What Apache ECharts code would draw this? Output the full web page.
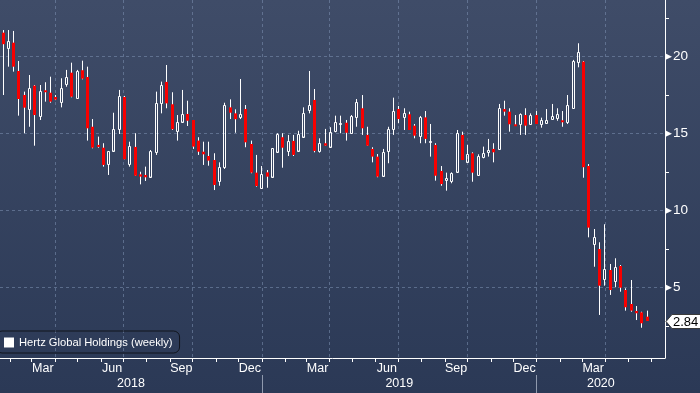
<!DOCTYPE html>
<html>
<head>
<meta charset="utf-8">
<script src="https://cdn.jsdelivr.net/npm/echarts@6/dist/echarts.min.js"></script>
<style>
html,body{margin:0;padding:0;background:#34425e;}
#c{width:700px;height:393px;}
</style>
</head>
<body>
<div id="c"></div>
<script>
// ---- data (weekly candles, Hertz Global Holdings) ----
const seriesName = 'Hertz Global Holdings (weekly)';
const firstWeek = '2018-01-19';   // first weekly bar (Friday)
const open = [21.56,20.58,20.91,19.07,17.51,16.58,18.12,16.17,17.82,17.66,17.38,17.08,18.21,18.96,17.34,19.12,18.68,15.45,14.27,14.09,
  13.03,13.90,15.29,17.38,13.03,14.14,12.36,12.32,12.21,13.83,16.97,18.36,16.91,15.18,15.78,16.28,15.89,14.55,13.83,13.55,
  13.29,11.95,12.82,16.71,16.32,16.10,16.60,14.33,12.47,11.49,12.49,12.21,13.83,14.77,13.90,14.53,13.90,14.81,16.54,17.19,
  13.90,14.38,14.16,15.19,15.63,15.71,15.03,16.06,16.65,14.92,14.01,13.51,12.27,13.90,15.29,16.60,16.06,16.26,15.52,14.87,
  16.06,14.44,14.27,12.58,11.99,11.95,12.53,14.92,13.18,13.73,12.32,13.51,13.83,14.01,13.99,16.60,16.43,15.61,15.63,16.21,
  15.63,16.21,15.63,15.71,15.94,16.04,15.87,15.78,16.65,19.68,19.68,12.90,7.84,7.51,5.55,6.15,5.44,6.41,4.85,3.94,
  3.49,3.40,3.12];
const high = [21.73,21.73,21.67,19.72,17.73,18.81,18.16,18.16,18.34,18.70,17.51,18.60,19.14,19.61,19.14,19.74,19.35,15.95,14.81,14.38,
  13.88,16.36,17.84,17.45,14.48,15.03,12.53,12.86,13.94,17.73,18.38,19.46,17.69,16.21,17.84,17.14,15.89,14.77,14.48,14.48,
  13.73,13.14,17.01,17.23,16.58,18.55,16.86,14.55,13.62,12.90,12.64,14.05,15.03,15.03,14.92,14.92,15.19,16.71,19.07,17.90,
  14.70,15.31,15.42,16.17,16.17,15.89,16.21,17.25,17.51,15.45,14.12,13.68,14.01,15.45,17.34,16.80,16.65,16.43,15.63,16.15,
  16.47,15.63,14.38,12.90,12.47,12.49,15.24,15.13,14.27,13.79,13.66,14.16,14.66,14.38,16.93,17.14,16.65,16.21,16.32,16.65,
  16.32,16.47,16.04,16.60,16.93,16.65,16.47,17.51,19.79,20.87,19.72,13.03,8.81,7.95,9.12,6.54,6.91,6.47,4.96,5.50,
  3.81,3.44,3.51];
const low = [17.51,19.35,19.03,16.17,15.03,15.45,14.22,15.89,17.08,17.01,17.18,16.71,18.05,17.36,17.30,18.53,14.55,14.05,14.09,12.86,
  12.32,13.90,14.98,13.34,12.86,12.27,11.71,11.93,12.21,13.62,16.32,16.65,15.24,14.55,15.78,15.50,14.01,13.62,12.97,12.92,
  11.34,11.62,12.71,15.95,15.06,15.95,14.12,12.43,11.56,11.45,11.49,12.21,13.83,12.79,13.55,13.55,13.90,14.81,16.32,13.79,
  13.77,14.22,14.16,15.09,15.03,14.55,14.98,15.45,14.92,14.22,13.14,12.17,12.27,13.08,14.92,15.68,15.24,15.24,14.70,14.38,
  14.38,13.51,11.95,11.62,11.30,11.78,12.53,13.29,13.18,11.88,12.32,13.40,13.51,13.14,13.94,16.17,15.13,15.52,14.92,14.92,
  15.63,15.63,15.39,15.63,15.89,15.84,15.45,15.63,16.65,19.31,12.14,8.27,6.36,3.23,5.13,4.53,5.03,4.74,3.51,3.44,
  2.90,2.40,2.84];
const close = [20.81,21.02,19.35,17.25,16.69,17.95,16.21,17.77,17.73,17.08,17.21,17.95,18.68,17.40,19.07,18.57,15.35,14.09,14.14,12.97,
  13.88,15.31,17.45,13.34,14.20,12.27,12.21,12.17,13.88,16.99,18.14,16.97,15.29,15.78,16.28,15.84,14.16,13.83,13.66,13.25,
  11.67,12.82,16.86,16.36,15.94,16.28,14.44,12.47,11.60,12.36,12.21,14.05,14.98,14.09,14.53,13.62,14.96,16.32,16.86,13.88,
  14.38,14.22,15.09,15.78,15.71,15.06,16.15,17.04,15.35,14.22,13.51,12.21,13.79,15.31,16.47,15.95,16.32,15.24,14.87,16.06,
  14.66,14.55,12.27,11.73,12.14,12.43,15.06,13.29,13.68,12.47,13.55,13.77,13.94,13.79,16.65,16.43,15.61,15.52,16.26,15.52,
  16.21,15.63,15.89,15.89,16.15,16.28,15.78,16.86,19.72,20.29,12.82,8.90,8.27,5.13,6.19,4.85,6.32,5.00,3.73,3.51,
  3.34,2.69,2.84];
const yTickLabels = [5, 10, 15, 20];
const yMinorTicks = [2.5, 7.5, 12.5, 17.5, 22.5];
const monthNames = ['Jan','Feb','Mar','Apr','May','Jun','Jul','Aug','Sep','Oct','Nov','Dec'];
const labelMonths = [2, 5, 8, 11];   // Mar, Jun, Sep, Dec
const gridMonths = [0, 3, 6, 9];     // quarter starts
const years = [2018, 2019, 2020];

// ---- derived ----
const DAY = 864e5;
const N = close.length;
const weeks = [];
const w0 = Date.parse(firstWeek + 'T00:00:00Z');
for (let k = 0; k < N; k++) weeks.push(new Date(w0 + k * 7 * DAY).toISOString().slice(0, 10));
const cats = weeks.concat(['pad1', 'pad2', 'pad3']);
const candles = close.map((c, i) => [i, open[i], c, low[i], high[i]]);

const T0 = Date.UTC(2018, 0, 18, 2, 24);
const T1 = T0 + 883.3 * DAY;
const monthTicks = [], monthLabels = [], quarterLines = [], yearTicks = [], yearLabels = [];
years.forEach(y => {
  for (let m = 0; m < 12; m++) {
    const t = Date.UTC(y, m, 1);
    if (t > T0 && t < T1) {
      monthTicks.push(t);
      if (gridMonths.includes(m)) quarterLines.push(t);
      if (m === 0) yearTicks.push(t);
    }
    const lt = Date.UTC(y, m, 16);
    if (labelMonths.includes(m) && t > T0 && Date.UTC(y, m + 1, 1) <= T1) monthLabels.push(lt);
  }
  const a = Math.max(T0, Date.UTC(y, 0, 1)), b = Math.min(T1, Date.UTC(y + 1, 0, 1));
  yearLabels.push((a + b) / 2);
});

const FONT = 'Liberation Sans, Arial, sans-serif';
const GRIDC = 'rgba(125,145,178,0.55)';

function renderCandle(params, api) {
  const i = api.value(0);
  const o = api.value(1), c = api.value(2), lo = api.value(3), hi = api.value(4);
  const pO = api.coord([i, o]), pC = api.coord([i, c]);
  const yL = api.coord([i, lo])[1], yH = api.coord([i, hi])[1];
  const xc = Math.round(pO[0]);
  const wx = xc + 0.5;
  const top = Math.min(pO[1], pC[1]), bot = Math.max(pO[1], pC[1]);
  const ch = [];
  if (c < o) {
    ch.push({type: 'line', shape: {x1: wx, y1: yH, x2: wx, y2: yL}, style: {stroke: '#ffffff', lineWidth: 1}});
    ch.push({type: 'rect', shape: {x: xc - 1, y: top, width: 3, height: Math.max(bot - top, 2)}, style: {fill: '#f80000'}});
  } else {
    const t = Math.round(top), b = Math.max(Math.round(bot), t + 1);
    ch.push({type: 'line', shape: {x1: wx, y1: yH, x2: wx, y2: t}, style: {stroke: '#ffffff', lineWidth: 1}});
    ch.push({type: 'line', shape: {x1: wx, y1: b, x2: wx, y2: yL}, style: {stroke: '#ffffff', lineWidth: 1}});
    ch.push({type: 'rect', shape: {x: xc - 0.5, y: t + 0.5, width: 2, height: b - t}, style: {fill: null, stroke: '#ffffff', lineWidth: 1}});
  }
  return {type: 'group', children: ch};
}

function renderTag(params, api) {
  const p = api.coord([api.value(0), api.value(1)]);
  const gx = params.coordSys.x + params.coordSys.width;
  const y = Math.round(p[1]) + 0.5;
  return {type: 'group', children: [
    {type: 'polygon', shape: {points: [[gx + 1, y], [gx + 7, y - 7], [gx + 40, y - 7], [gx + 40, y + 7], [gx + 7, y + 7]]},
     style: {fill: '#ffffff', stroke: '#3a3a3a', lineWidth: 1}},
    {type: 'text', style: {text: api.value(1).toFixed(2), x: gx + 8, y: y + 0.5, fill: '#000000', font: '13px ' + FONT,
      textVerticalAlign: 'middle', verticalAlign: 'middle', textAlign: 'left'}}
  ]};
}

const chart = echarts.init(document.getElementById('c'), null, {renderer: 'canvas'});
chart.setOption({
  animation: false,
  backgroundColor: new echarts.graphic.LinearGradient(0, 0, 0, 1, [
    {offset: 0, color: '#3f4c68'}, {offset: 1, color: '#2b3956'}]),
  textStyle: {fontFamily: FONT},
  grid: {left: -2, right: 35, top: 0, bottom: 35, containLabel: false},
  legend: {
    data: [{name: seriesName, icon: 'rect'}], left: -4, top: 331, itemWidth: 10, itemHeight: 10,
    padding: [6, 7, 5, 8], borderColor: '#10141c', borderWidth: 1, borderRadius: 6, selectedMode: false,
    textStyle: {color: '#ffffff', fontSize: 11.2, fontFamily: FONT}
  },
  xAxis: [
    {type: 'category', data: cats, boundaryGap: true, show: false},
    {type: 'value', min: T0, max: T1, position: 'bottom',
     axisLine: {show: true, lineStyle: {color: '#ffffff', width: 1}},
     axisTick: {show: true, length: 4, customValues: monthTicks, lineStyle: {color: '#ffffff'}},
     axisLabel: {show: true, customValues: monthLabels, margin: 4, color: '#ffffff', fontSize: 12.5,
       formatter: v => monthNames[new Date(v).getUTCMonth()]},
     splitLine: {show: false}},
    {type: 'value', min: T0, max: T1, position: 'bottom', offset: 17,
     axisLine: {show: false},
     axisTick: {show: true, length: 18, customValues: yearTicks, lineStyle: {color: '#8f99ad'}},
     axisLabel: {show: true, customValues: yearLabels, margin: 2, color: '#ffffff', fontSize: 12.5,
       formatter: v => String(new Date(v).getUTCFullYear())},
     splitLine: {show: false}},
    {type: 'value', min: T0, max: T1, position: 'bottom',
     axisLine: {show: false},
     axisTick: {show: false, customValues: quarterLines},
     axisLabel: {show: false},
     splitLine: {show: true, lineStyle: {color: GRIDC, type: [3, 3], width: 1}}}
  ],
  yAxis: [
    {type: 'value', position: 'right', min: 0.435, max: 23.68,
     axisLine: {show: true, lineStyle: {color: '#ffffff', width: 1}},
     axisTick: {show: false, customValues: yTickLabels},
     axisLabel: {show: true, customValues: yTickLabels, margin: 0, color: '#ffffff',
       formatter: v => '{t|▶}{v|' + v + '}',
       rich: {t: {fontSize: 9, color: '#ffffff', padding: [0, 1, 0, 0]}, v: {fontSize: 13.5, color: '#ffffff', fontFamily: FONT}}},
     splitLine: {show: true, lineStyle: {color: GRIDC, type: [3, 3], width: 1}}},
    {type: 'value', position: 'right', min: 0.435, max: 23.68,
     axisLine: {show: false},
     axisTick: {show: true, length: 4, customValues: yMinorTicks, lineStyle: {color: '#ffffff'}},
     axisLabel: {show: false},
     splitLine: {show: false}}
  ],
  series: [
    {name: seriesName, type: 'custom', xAxisIndex: 0, yAxisIndex: 0, renderItem: renderCandle,
     itemStyle: {color: '#ffffff'}, clip: true, data: candles, encode: {x: 0, y: [1, 2, 3, 4]}, silent: true},
    {name: 'lastTag', type: 'custom', xAxisIndex: 0, yAxisIndex: 0, renderItem: renderTag, clip: false,
     data: [[N - 1, close[N - 1]]], encode: {x: 0, y: 1}, silent: true}
  ]
});
</script>
</body>
</html>
